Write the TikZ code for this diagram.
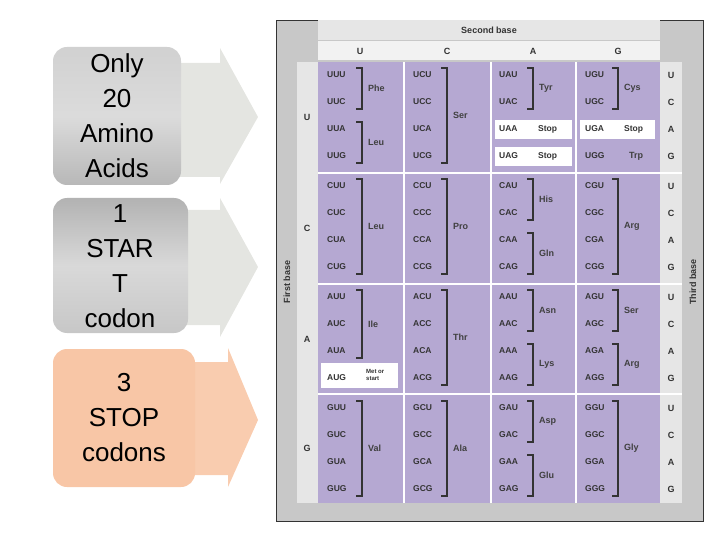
\documentclass[tikz,border=0pt]{standalone}
\usepackage{fontspec}
\setmainfont{Liberation Sans}
\begin{document}
\begin{tikzpicture}[x=1pt,y=-1pt,
  cod/.style={anchor=west,font=\bfseries\fontsize{8.5}{9}\selectfont,text=black!80,inner sep=0pt},
  aa/.style={anchor=west,font=\bfseries\fontsize{9}{10}\selectfont,text=black!75,inner sep=0pt},
  hdr/.style={font=\bfseries\fontsize{9}{10}\selectfont,text=black!80,inner sep=0pt},
  brk/.style={line width=1.3pt,black!80},
  big/.style={align=center,font=\fontsize{26}{35}\selectfont,inner sep=0pt},
  whitebox/.style={fill=white,draw=none}]
\useasboundingbox (0,0) rectangle (720,540);
\definecolor{purp}{HTML}{B5A8D2}
\definecolor{lgr}{HTML}{E6E6E6}
\definecolor{mgr}{HTML}{C8C8C8}
\definecolor{arrg}{HTML}{E4E5E1}
\definecolor{peach}{HTML}{F8C6A6}
% left arrows and boxes
\fill[arrg] (175,63)--(220,63)--(220,48)--(258,117)--(220,184)--(220,177)--(175,177)--cycle;
\fill[arrg] (180,210)--(220,210)--(220,198)--(258,267)--(220,337)--(220,325)--(180,325)--cycle;
\fill[peach!90] (185,362)--(228,362)--(228,348)--(258,420)--(228,487)--(228,475)--(185,475)--cycle;
\shade[rounded corners=14pt,top color=black!18,bottom color=black!28,middle color=black!14] (53,47) rectangle (181,185);
\shade[rounded corners=14pt,top color=black!30,bottom color=black!22,middle color=black!15] (53,198) rectangle (188,333);
\fill[rounded corners=14pt,peach] (53,349) rectangle (195,487);
\node[big] (t1) at (117,116) {Only\\20\\Amino\\Acids};
\node[big] (t2) at (120,266) {1\\STAR\\T\\codon};
\node[big] (t3) at (124,418) {3\\STOP\\codons};
% table frame
\fill[mgr] (276,20) rectangle (703,521);
\draw[black!80,line width=0.8pt] (276,20) rectangle (703,521);
\fill[lgr] (318,20) rectangle (660,40);
\fill[white!95!black] (318,41) rectangle (660,60);
\node[hdr] (sb) at (489,30) {Second base};
\foreach \l/\x in {U/360,C/447,A/533,G/618}
  \node[hdr] (h\l) at (\x,51) {\l};
\fill[lgr] (297,62) rectangle (318,503);
\fill[lgr] (660,62) rectangle (682,503);
\node[hdr,rotate=90] (fb) at (287,282) {First base};
\node[hdr,rotate=90] (tb) at (693,282) {Third base};
% purple blocks
\foreach \ya/\yb in {62/172,174/283,285/393,395/503}
  \foreach \xa/\xb in {318/403,405/490,492/575,577/660}
    \fill[purp] (\xa,\ya) rectangle (\xb,\yb);
\fill[white] (318,172) rectangle (682,174);
\fill[white] (318,283) rectangle (682,285);
\fill[white] (318,393) rectangle (682,395);
\foreach \x in {403,490,575} \fill[white] (\x,62) rectangle (\x+2,503);
% first base letters and third base letters
\foreach \l/\y in {U/117,C/228,A/339,G/448}
  \node[hdr] (fb\l) at (307,\y) {\l};
\foreach \y in {75,186,297,408}{
  \node[hdr] at (671,\y) {U};
  \node[hdr] at (671,\y+27) {C};
  \node[hdr] at (671,\y+54) {A};
  \node[hdr] at (671,\y+81) {G};
}
% white boxes
\fill[white] (495,120) rectangle (572,139);
\fill[white] (495,147) rectangle (572,166);
\fill[white] (580,120) rectangle (655,139);
\fill[white] (321,363) rectangle (398,388);
% codons
\foreach \r/\y in {U/75,C/186,A/297,G/408}
  \foreach \c/\x in {U/327,C/413,A/499,G/585}
    \foreach \t/\k in {U/0,C/1,A/2,G/3}
      \node[cod] at (\x,\y+\k*27-\k*0.15) {\r\c\t};
% stop labels
\node[cod] at (538,129.5) {Stop};
\node[cod] at (538,156.5) {Stop};
\node[cod] at (624,129.5) {Stop};
\node[aa] at (629,156.5) {Trp};
\node[align=left,anchor=west,font=\bfseries\fontsize{6}{6.5}\selectfont,inner sep=0pt,text=black!80] at (366,375) {Met or\\start};
% brackets: x, y1, y2 (row tops), label
\newcommand{\brkt}[4]{\draw[brk] (#1-6,#2-7)--(#1,#2-7)--(#1,#3+7)--(#1-6,#3+7);
  \node[aa] at (#1+6,{(#2+#3)/2}) {#4};}
% U row
\brkt{362}{75}{102}{Phe}\brkt{362}{129}{156}{Leu}
\brkt{447}{75}{156}{Ser}\brkt{533}{75}{102}{Tyr}\brkt{618}{75}{102}{Cys}
% C row
\brkt{362}{186}{267}{Leu}\brkt{447}{186}{267}{Pro}
\brkt{533}{186}{213}{His}\brkt{533}{240}{267}{Gln}\brkt{618}{186}{267}{Arg}
% A row
\brkt{362}{297}{351}{Ile}\brkt{447}{297}{378}{Thr}
\brkt{533}{297}{324}{Asn}\brkt{533}{351}{378}{Lys}
\brkt{618}{297}{324}{Ser}\brkt{618}{351}{378}{Arg}
% G row
\brkt{362}{408}{489}{Val}\brkt{447}{408}{489}{Ala}
\brkt{533}{408}{435}{Asp}\brkt{533}{462}{489}{Glu}\brkt{618}{408}{489}{Gly}
\end{tikzpicture}
\end{document}
